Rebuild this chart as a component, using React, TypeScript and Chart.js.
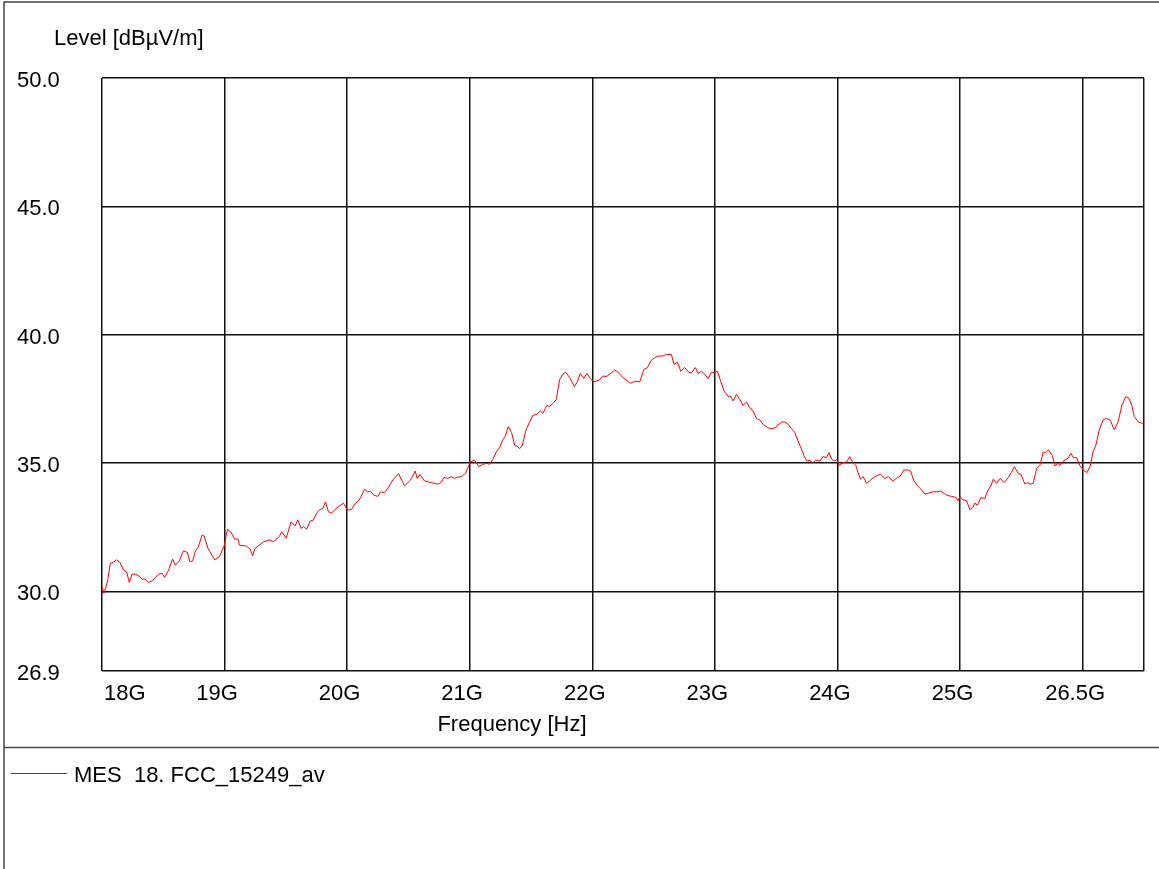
import React, { useEffect, useRef } from "react";
import { Chart, registerables } from "chart.js";

Chart.register(...registerables);

// Frequency in GHz
const freqGHz: number[] = [
  18.000, 18.016, 18.046, 18.068, 18.092, 18.119, 18.147, 18.174, 18.201, 18.223,
  18.245, 18.272, 18.299, 18.327, 18.353, 18.380, 18.408, 18.435, 18.462, 18.490,
  18.511, 18.544, 18.576, 18.598, 18.631, 18.664, 18.696, 18.718, 18.740, 18.762,
  18.784, 18.816, 18.833, 18.865, 18.919, 18.958, 18.996, 19.023, 19.050, 19.082,
  19.110, 19.121, 19.176, 19.208, 19.229, 19.246, 19.273, 19.317, 19.366, 19.398,
  19.447, 19.466, 19.502, 19.543, 19.576, 19.597, 19.624, 19.646, 19.668, 19.700,
  19.722, 19.755, 19.776, 19.801, 19.823, 19.847, 19.874, 19.902, 19.937, 19.970,
  20.000, 20.033, 20.060, 20.092, 20.114, 20.141, 20.168, 20.190, 20.217, 20.250,
  20.272, 20.304, 20.337, 20.372, 20.419, 20.468, 20.517, 20.555, 20.571, 20.593,
  20.631, 20.686, 20.740, 20.767, 20.789, 20.821, 20.849, 20.876, 20.890, 20.931,
  20.966, 21.004, 21.039, 21.074, 21.107, 21.140, 21.162, 21.189, 21.216, 21.243,
  21.270, 21.292, 21.314, 21.341, 21.368, 21.384, 21.407, 21.429, 21.456, 21.488,
  21.515, 21.548, 21.576, 21.597, 21.629, 21.651, 21.684, 21.706, 21.733, 21.760,
  21.782, 21.815, 21.853, 21.874, 21.902, 21.929, 21.956, 21.984, 22.011, 22.054,
  22.087, 22.114, 22.141, 22.182, 22.209, 22.250, 22.304, 22.313, 22.345, 22.386,
  22.421, 22.449, 22.482, 22.509, 22.536, 22.576, 22.604, 22.645, 22.666, 22.694,
  22.721, 22.753, 22.786, 22.808, 22.841, 22.862, 22.890, 22.917, 22.944, 22.971,
  22.998, 23.020, 23.047, 23.074, 23.107, 23.129, 23.148, 23.176, 23.202, 23.229,
  23.257, 23.284, 23.311, 23.339, 23.366, 23.393, 23.429, 23.461, 23.494, 23.510,
  23.543, 23.570, 23.597, 23.624, 23.651, 23.678, 23.706, 23.733, 23.752, 23.774,
  23.796, 23.823, 23.856, 23.882, 23.910, 23.931, 23.951, 23.978, 23.997, 24.013,
  24.046, 24.073, 24.100, 24.122, 24.149, 24.168, 24.188, 24.209, 24.237, 24.269,
  24.304, 24.331, 24.351, 24.386, 24.413, 24.454, 24.487, 24.508, 24.541, 24.576,
  24.596, 24.623, 24.658, 24.694, 24.713, 24.740, 24.776, 24.808, 24.841, 24.868,
  24.890, 24.931, 24.966, 24.984, 24.998, 25.025, 25.053, 25.080, 25.102, 25.120,
  25.141, 25.170, 25.202, 25.224, 25.251, 25.270, 25.298, 25.325, 25.360, 25.393,
  25.420, 25.442, 25.474, 25.496, 25.529, 25.551, 25.570, 25.597, 25.624, 25.651,
  25.678, 25.698, 25.719, 25.752, 25.774, 25.796, 25.815, 25.842, 25.878, 25.905,
  25.923, 25.951, 25.978, 26.005, 26.033, 26.060, 26.086, 26.106, 26.133, 26.168,
  26.196, 26.223, 26.258, 26.291, 26.318, 26.351, 26.378, 26.400, 26.421, 26.454,
  26.482, 26.500,
];

// Level in dBµV/m
const levelDb: number[] = [
  30.19, 29.93, 30.41, 31.10, 31.13, 31.23, 31.13, 30.84, 30.76, 30.35,
  30.67, 30.67, 30.61, 30.48, 30.48, 30.35, 30.41, 30.54, 30.67, 30.71,
  30.54, 30.84, 31.26, 31.02, 31.19, 31.58, 31.52, 31.15, 31.19, 31.58,
  31.71, 32.19, 32.16, 31.67, 31.23, 31.36, 31.77, 32.42, 32.32, 32.04,
  32.04, 31.80, 31.77, 31.65, 31.39, 31.65, 31.77, 31.93, 32.01, 31.93,
  32.14, 32.32, 32.07, 32.71, 32.55, 32.79, 32.45, 32.53, 32.42, 32.75,
  32.77, 33.07, 33.18, 33.23, 33.49, 33.10, 33.05, 33.20, 33.33, 33.44,
  33.18, 33.18, 33.40, 33.53, 33.70, 33.98, 33.88, 33.91, 33.75, 33.70,
  33.88, 33.85, 34.05, 34.34, 34.59, 34.11, 34.34, 34.69, 34.40, 34.56,
  34.30, 34.24, 34.18, 34.24, 34.44, 34.40, 34.47, 34.40, 34.44, 34.47,
  34.60, 35.04, 35.12, 34.86, 34.95, 34.99, 34.95, 35.15, 35.43, 35.60,
  35.90, 36.08, 36.42, 36.19, 35.67, 35.67, 35.56, 35.69, 36.25, 36.60,
  36.86, 36.90, 37.03, 36.94, 37.25, 37.20, 37.35, 37.48, 38.26, 38.46,
  38.54, 38.33, 37.98, 38.13, 38.49, 38.29, 38.49, 38.29, 38.16, 38.23,
  38.39, 38.37, 38.46, 38.62, 38.54, 38.33, 38.13, 38.11, 38.19, 38.16,
  38.65, 38.72, 39.01, 39.11, 39.17, 39.17, 39.23, 39.23, 38.84, 38.93,
  38.58, 38.72, 38.54, 38.52, 38.72, 38.49, 38.58, 38.46, 38.29, 38.54,
  38.52, 38.58, 38.19, 37.81, 37.61, 37.59, 37.42, 37.68, 37.48, 37.25,
  37.38, 37.16, 37.03, 36.73, 36.68, 36.51, 36.38, 36.34, 36.38, 36.47,
  36.60, 36.60, 36.51, 36.34, 36.19, 35.86, 35.54, 35.21, 35.08, 35.12,
  34.99, 35.12, 35.08, 35.25, 35.21, 35.41, 35.15, 35.08, 35.15, 34.91,
  35.02, 35.04, 35.25, 35.04, 34.91, 34.63, 34.37, 34.47, 34.21, 34.34,
  34.47, 34.53, 34.56, 34.40, 34.47, 34.30, 34.44, 34.47, 34.73, 34.73,
  34.69, 34.30, 34.09, 33.91, 33.79, 33.82, 33.88, 33.88, 33.91, 33.82,
  33.75, 33.70, 33.66, 33.53, 33.70, 33.56, 33.53, 33.18, 33.27, 33.44,
  33.36, 33.66, 33.62, 33.91, 34.11, 34.37, 34.21, 34.40, 34.24, 34.44,
  34.65, 34.86, 34.60, 34.56, 34.18, 34.24, 34.18, 34.21, 34.79, 34.91,
  35.43, 35.41, 35.51, 35.30, 34.89, 34.99, 34.91, 35.08, 35.18, 35.38,
  35.21, 35.21, 34.89, 34.73, 34.63, 34.86, 35.47, 35.67, 36.25, 36.70,
  36.73, 36.68, 36.29, 36.64, 37.22, 37.59, 37.51, 37.25, 36.81, 36.60,
  36.55, 36.58,
];

const xTickValues: number[] = [18, 19, 20, 21, 22, 23, 24, 25, 26, 26.5];
const xTickLabels: string[] = ["18G", "19G", "20G", "21G", "22G", "23G", "24G", "25G", "26.5G", ""];
const yTickValues: number[] = [26.9, 30, 35, 40, 45, 50];
const yTickLabels: string[] = ["26.9", "30.0", "35.0", "40.0", "45.0", "50.0"];

const yTitle = "Level [dBµV/m]";
const xTitle = "Frequency [Hz]";
const seriesName = "MES  18. FCC_15249_av";
const seriesColor = "#ff0000";

const FONT = '22px "Liberation Sans", Arial, Helvetica, sans-serif';

const decorPlugin = {
  id: "decor",
  afterDraw(chart: any) {
    const ctx = chart.ctx as CanvasRenderingContext2D;
    const xs = chart.scales.x;
    const ys = chart.scales.y;
    const area = chart.chartArea;
    ctx.save();
    // outer frame lines
    ctx.strokeStyle = "#444";
    ctx.lineWidth = 1.5;
    ctx.beginPath();
    ctx.moveTo(4, 869);
    ctx.lineTo(4, 2);
    ctx.lineTo(1159, 2);
    ctx.moveTo(4, 747.5);
    ctx.lineTo(1159, 747.5);
    ctx.stroke();

    // legend sample line
    ctx.fillStyle = seriesColor;
    ctx.fillRect(11, 773, 56, 1);

    ctx.fillStyle = "#000";
    ctx.font = FONT;
    ctx.textBaseline = "alphabetic";
    // y axis title
    ctx.textAlign = "left";
    ctx.fillText(yTitle, 54, 45);
    // y tick labels
    yTickValues.forEach((v, i) => {
      const py = ys.getPixelForValue(v);
      ctx.fillText(yTickLabels[i], 17, py + 9);
    });
    // x tick labels
    xTickValues.forEach((v, i) => {
      const lbl = xTickLabels[i];
      if (!lbl) return;
      const px = xs.getPixelForValue(v);
      const w = ctx.measureText(lbl).width;
      let left = px - 7.6 - w / 2;
      if (left < area.left + 2) left = area.left + 2;
      ctx.fillText(lbl, left, 699.5);
    });
    // x axis title
    ctx.textAlign = "center";
    ctx.fillText(xTitle, 512, 730.5);
    // legend text
    ctx.textAlign = "left";
    ctx.fillText(seriesName, 74, 781.5);
    ctx.restore();
  },
};

export default function App() {
  const canvasRef = useRef<HTMLCanvasElement | null>(null);

  useEffect(() => {
    document.body.style.margin = "0";
    const canvas = canvasRef.current;
    if (!canvas) return;
    const points = freqGHz.map((f, i) => ({ x: f, y: levelDb[i] }));
    const gridCommon = {
      display: true,
      drawTicks: false,
      color: "#111",
      lineWidth: 1.5,
    };
    const chart = new Chart(canvas, {
      type: "line",
      data: {
        datasets: [
          {
            label: seriesName,
            data: points,
            borderColor: seriesColor,
            borderWidth: 1,
            pointRadius: 0,
            tension: 0,
            fill: false,
          },
        ],
      },
      options: {
        animation: false,
        responsive: false,
        devicePixelRatio: 1,
        events: [],
        layout: { padding: { left: 102, top: 78, right: 15, bottom: 198 } },
        plugins: {
          legend: { display: false },
          tooltip: { enabled: false },
          title: { display: false },
        },
        scales: {
          x: {
            type: "linear",
            min: 18,
            max: 26.5,
            grid: gridCommon,
            border: { display: false },
            ticks: { display: false },
            afterBuildTicks: (scale: any) => {
              scale.ticks = xTickValues.map((v) => ({ value: v }));
            },
            afterFit: (scale: any) => {
              scale.height = 0;
            },
          },
          y: {
            type: "linear",
            min: 26.9,
            max: 50,
            grid: gridCommon,
            border: { display: false },
            ticks: { display: false },
            afterBuildTicks: (scale: any) => {
              scale.ticks = yTickValues.map((v) => ({ value: v }));
            },
            afterFit: (scale: any) => {
              scale.width = 0;
            },
          },
        },
      } as any,
      plugins: [decorPlugin],
    });
    return () => chart.destroy();
  }, []);

  return (
    <div style={{ width: 1159, height: 869, position: "relative", background: "#fff" }}>
      <canvas ref={canvasRef} width={1159} height={869} style={{ display: "block" }} />
    </div>
  );
}
